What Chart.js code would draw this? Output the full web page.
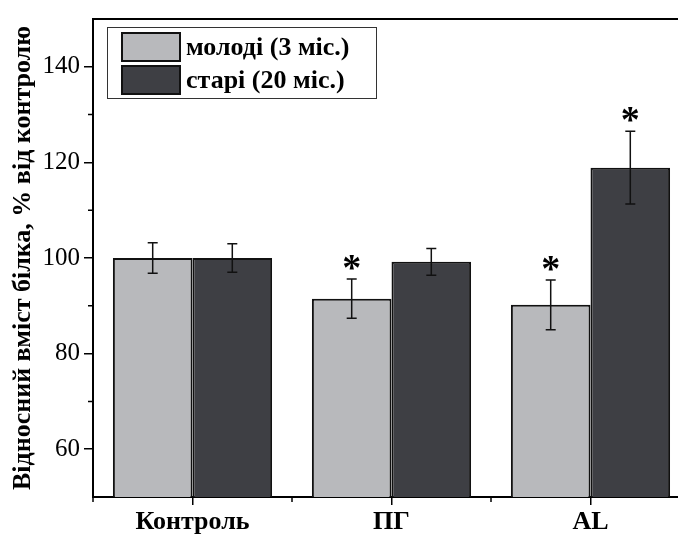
<!DOCTYPE html>
<html>
<head>
<meta charset="utf-8">
<script src="https://cdn.jsdelivr.net/npm/chart.js@4.4.1/dist/chart.umd.min.js"></script>
<style>
  html, body { margin: 0; padding: 0; background: #fff; overflow: hidden; }
  #wrap { width: 678px; height: 538px; overflow: hidden; }
</style>
</head>
<body>
<div id="wrap"><canvas id="graphic" width="690" height="538"></canvas></div>
<script>
const categories = ['Контроль', 'ПГ', 'AL'];
const youngValues = [100, 91.5, 90.2];
const youngErrors = [3.2, 4.1, 5.2];
const youngStars = [false, true, true];
const oldValues = [100, 99.2, 118.9];
const oldErrors = [3.0, 2.8, 7.6];
const oldStars = [false, false, true];
const yTicks = [60, 80, 100, 120, 140];
const yMinorTicks = [70, 90, 110, 130];

const serif = '"Liberation Serif", "Times New Roman", serif';

// error bars, stars, frame, minor ticks and the boxed legend
const extras = {
  id: 'extras',
  afterDatasetsDraw(chart) {
    const ctx = chart.ctx;
    const y = chart.scales.y;
    const area = chart.chartArea;
    const errs = [youngErrors, oldErrors];
    const stars = [youngStars, oldStars];
    ctx.save();
    ctx.strokeStyle = '#111';
    ctx.lineWidth = 1.5;
    chart.data.datasets.forEach((ds, i) => {
      chart.getDatasetMeta(i).data.forEach((bar, j) => {
        const v = ds.data[j];
        const top = y.getPixelForValue(v + errs[i][j]);
        const bot = y.getPixelForValue(v - errs[i][j]);
        ctx.beginPath();
        ctx.moveTo(bar.x, top); ctx.lineTo(bar.x, bot);
        ctx.moveTo(bar.x - 5, top); ctx.lineTo(bar.x + 5, top);
        ctx.moveTo(bar.x - 5, bot); ctx.lineTo(bar.x + 5, bot);
        ctx.stroke();
        if (stars[i][j]) {
          ctx.fillStyle = '#000';
          ctx.font = 'bold 38px ' + serif;
          ctx.textAlign = 'center';
          ctx.textBaseline = 'middle';
          ctx.fillText('*', bar.x, top - 9);
        }
      });
    });

    // top frame line
    ctx.strokeStyle = '#000';
    ctx.lineWidth = 2;
    ctx.beginPath();
    ctx.moveTo(area.left, area.top);
    ctx.lineTo(area.right, area.top);
    ctx.stroke();

    // minor ticks on y
    ctx.lineWidth = 1.5;
    ctx.beginPath();
    yMinorTicks.forEach(v => {
      const p = y.getPixelForValue(v);
      ctx.moveTo(area.left - 5, p); ctx.lineTo(area.left, p);
    });
    // boundary ticks on x
    const x = chart.scales.x;
    for (let k = 0; k <= categories.length; k++) {
      const p = x.getPixelForValue(k - 0.5);
      ctx.moveTo(p, area.bottom); ctx.lineTo(p, area.bottom + 5);
    }
    ctx.stroke();

    // legend box
    const lx = 107, ly = 27, lw = 269, lh = 71;
    ctx.lineWidth = 1;
    ctx.strokeStyle = '#333';
    ctx.fillStyle = '#fff';
    ctx.fillRect(lx, ly, lw, lh);
    ctx.strokeRect(lx + 0.5, ly + 0.5, lw, lh);
    chart.data.datasets.forEach((ds, i) => {
      const sy = ly + 6 + i * 33;
      ctx.fillStyle = ds.backgroundColor;
      ctx.fillRect(122, sy, 58, 28);
      ctx.lineWidth = 2;
      ctx.strokeStyle = '#111';
      ctx.strokeRect(122, sy, 58, 28);
      ctx.fillStyle = '#000';
      ctx.font = 'bold 26px ' + serif;
      ctx.textAlign = 'left';
      ctx.textBaseline = 'middle';
      ctx.fillText(ds.label, 186, sy + 15);
    });
    ctx.restore();
  }
};

new Chart(document.getElementById('graphic'), {
  type: 'bar',
  data: {
    labels: categories,
    datasets: [
      {
        label: 'молоді (3 міс.)',
        data: youngValues,
        backgroundColor: '#b8b9bc',
        borderColor: '#111',
        borderWidth: 2,
        borderSkipped: false,
        categoryPercentage: 0.8,
        barPercentage: 1.0
      },
      {
        label: 'старі (20 міс.)',
        data: oldValues,
        backgroundColor: '#3e3f44',
        borderColor: '#111',
        borderWidth: 2,
        borderSkipped: false,
        categoryPercentage: 0.8,
        barPercentage: 1.0
      }
    ]
  },
  options: {
    responsive: false,
    animation: false,
    layout: { padding: { top: 15, right: 0, bottom: 0, left: 0 } },
    plugins: { legend: { display: false }, tooltip: { enabled: false } },
    scales: {
      x: {
        offset: true,
        grid: { offset: false, drawOnChartArea: false, drawTicks: true, tickLength: 8, color: '#000', lineWidth: 1.5 },
        border: { display: true, color: '#000', width: 2 },
        ticks: { color: '#000', font: { family: serif, size: 26, weight: 'bold' }, padding: 2, maxRotation: 0 },
        afterFit(s) { s.height = 41; }
      },
      y: {
        min: 50,
        max: 150,
        afterBuildTicks(s) { s.ticks = yTicks.map(v => ({ value: v })); },
        grid: { drawOnChartArea: false, drawTicks: true, tickLength: 9, color: '#000', lineWidth: 1.5 },
        border: { display: true, color: '#000', width: 2 },
        ticks: { color: '#000', font: { family: serif, size: 25 }, padding: 4 },
        title: {
          display: true,
          text: 'Відносний вміст білка, % від контролю',
          color: '#000',
          font: { family: serif, size: 26, weight: 'bold' },
          padding: { top: 8, bottom: 0 }
        },
        afterFit(s) { s.width = 93; }
      }
    }
  },
  plugins: [extras]
});
</script>
</body>
</html>
